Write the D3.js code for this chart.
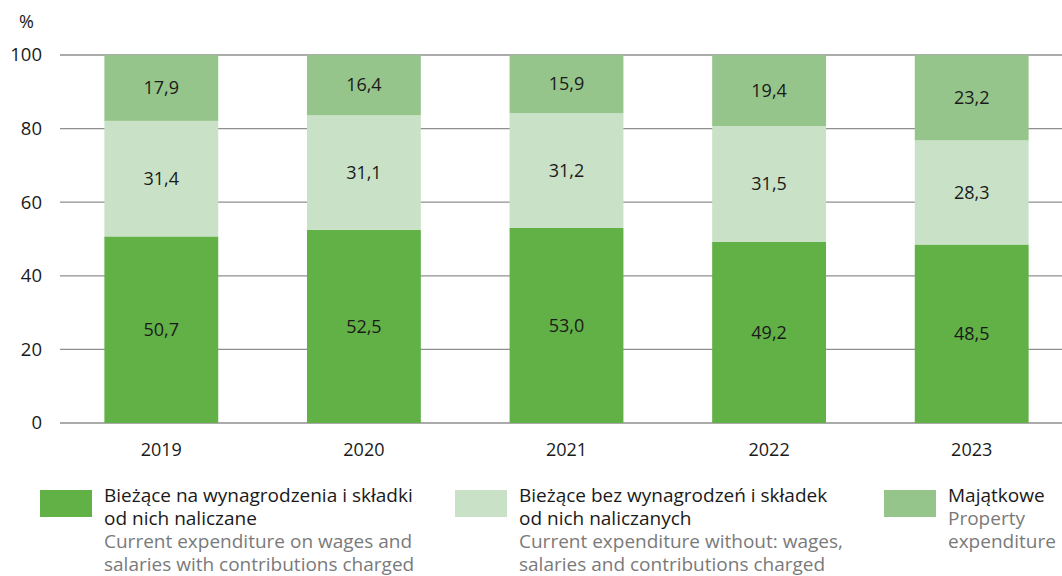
<!DOCTYPE html>
<html>
<head>
<meta charset="utf-8">
<script src="https://cdn.jsdelivr.net/npm/d3@7"></script>
<style>
  html, body { margin: 0; padding: 0; background: #fff; }
  svg { display: block; font-family: "Open Sans", "Noto Sans", sans-serif; }
</style>
</head>
<body>
<svg id="chart" width="1062" height="576"></svg>
<script>
// Structure of expenditure, % of total
const years = ["2019", "2020", "2021", "2022", "2023"];
const wages = [50.7, 52.5, 53.0, 49.2, 48.5];
const nonWages = [31.4, 31.1, 31.2, 31.5, 28.3];
const property = [17.9, 16.4, 15.9, 19.4, 23.2];
const yTicks = [0, 20, 40, 60, 80, 100];

const seriesKeys = ["wages", "nonWages", "property"];
const seriesColors = { wages: "#62b146", nonWages: "#c9e2c7", property: "#95c58b" };
const legendItems = [
  { key: "wages", pl: ["Bieżące na wynagrodzenia i składki", "od nich naliczane"],
    en: ["Current expenditure on wages and", "salaries with contributions charged"] },
  { key: "nonWages", pl: ["Bieżące bez wynagrodzeń i składek", "od nich naliczanych"],
    en: ["Current expenditure without: wages,", "salaries and contributions charged"] },
  { key: "property", pl: ["Majątkowe"], en: ["Property", "expenditure"] }
];

const rows = years.map((y, i) => ({ year: y, wages: wages[i], nonWages: nonWages[i], property: property[i] }));
const stacked = d3.stack().keys(seriesKeys)(rows);

const svg = d3.select("#chart");
const plot = { left: 60, right: 1073, top: 55, bottom: 423 };

const x = d3.scaleBand().domain(years).range([plot.left, plot.right]).paddingInner(0.438).paddingOuter(0.219);
const y = d3.scaleLinear().domain([0, 100]).range([plot.bottom, plot.top]);

// gridlines
svg.append("g").selectAll("line").data(yTicks).join("line")
  .attr("x1", plot.left).attr("x2", 1062)
  .attr("y1", d => y(d)).attr("y2", d => y(d))
  .attr("stroke", "#8f8f8f").attr("stroke-width", 1.3);

// y axis labels
const yAxis = d3.axisLeft(y).tickValues(yTicks).tickSize(0).tickPadding(0);
svg.append("g").attr("transform", "translate(42,0)").call(yAxis)
  .call(g => g.select(".domain").remove())
  .call(g => g.selectAll("text").attr("font-size", 18.5).attr("fill", "#1a1a1a")
    .attr("font-family", "'Open Sans', sans-serif"));

svg.append("text").attr("x", 19).attr("y", 28).attr("font-size", 18).attr("fill", "#1a1a1a").text("%");

// bars
const layers = svg.append("g").selectAll("g").data(stacked).join("g")
  .attr("fill", d => seriesColors[d.key]);
layers.selectAll("rect").data(d => d).join("rect")
  .attr("x", d => x(d.data.year))
  .attr("width", x.bandwidth())
  .attr("y", d => y(Math.min(d[1], 100)))
  .attr("height", d => y(d[0]) - y(Math.min(d[1], 100)));

// value labels
layers.selectAll("text").data(d => d).join("text")
  .attr("x", d => x(d.data.year) + x.bandwidth() / 2)
  .attr("y", d => (y(d[0]) + y(Math.min(d[1], 100))) / 2)
  .attr("dy", "0.35em")
  .attr("text-anchor", "middle")
  .attr("font-size", 18).attr("fill", "#1a1a1a")
  .text(d => (d[1] - d[0]).toFixed(1).replace(".", ","));

// x axis labels
const xAxis = d3.axisBottom(x).tickSize(0).tickPadding(0);
svg.append("g").attr("transform", `translate(0,${plot.bottom + 33})`).call(xAxis)
  .call(g => g.select(".domain").remove())
  .call(g => g.selectAll("text").attr("font-size", 18).attr("fill", "#1a1a1a")
    .attr("font-family", "'Open Sans', sans-serif").attr("dy", "0"));

// legend
const legendX = [40, 455, 884];
const legend = svg.append("g").selectAll("g").data(legendItems).join("g")
  .attr("transform", (d, i) => `translate(${legendX[i]},490)`);
legend.append("rect").attr("width", 52).attr("height", 27).attr("fill", d => seriesColors[d.key]);
legend.each(function (d) {
  const g = d3.select(this);
  const lines = d.pl.map(t => ({ t, c: "#1a1a1a" })).concat(d.en.map(t => ({ t, c: "#7a7a7a" })));
  g.selectAll("text").data(lines).join("text")
    .attr("x", 64).attr("y", (l, i) => 12 + i * 23)
    .attr("font-size", 19).attr("fill", l => l.c)
    .text(l => l.t);
});
</script>
</body>
</html>
